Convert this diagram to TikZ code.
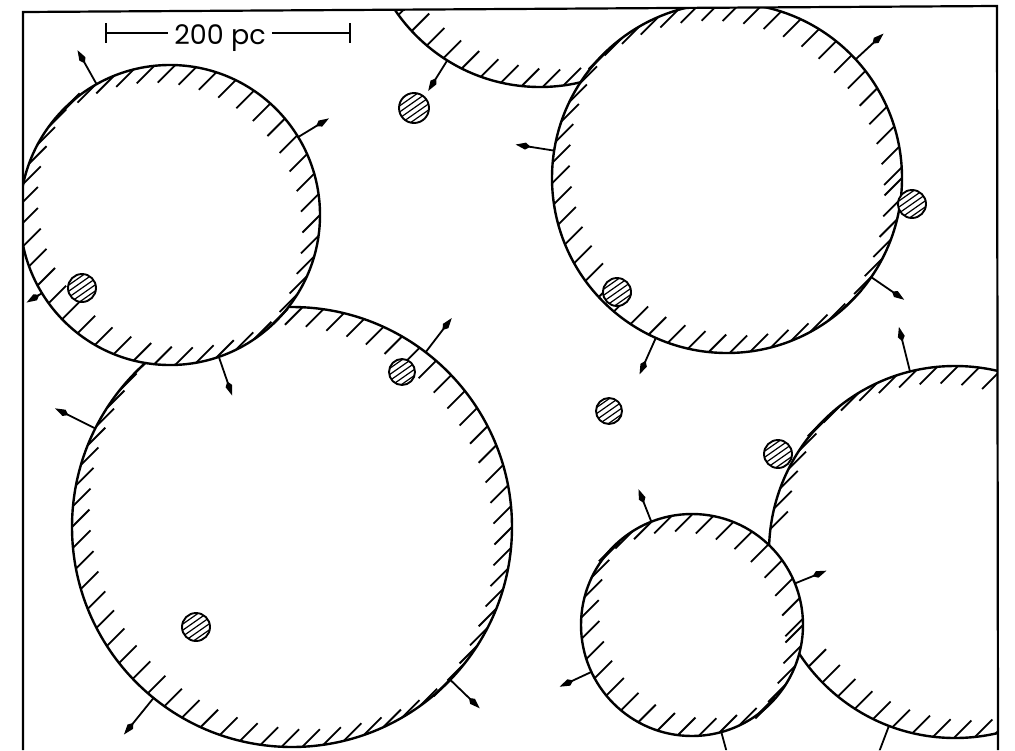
\documentclass[tikz,border=0pt]{standalone}
\usepackage{fontspec}
\setmainfont{Poppins}
\usetikzlibrary{arrows.meta}
% #1,#2,#3: centre and radius; #4,#5,#6: centre and radius of the bubble in front of it
\newcommand\bubbleat[6]{%
  \begin{scope}[even odd rule]
    \clip (-200,-400) rectangle (1300,1100) (#4,#5) circle[radius=#6pt];
    \draw[rim] (#1,#2) circle[radius=#3pt];
    \pgfmathsetmacro\hstep{1200/#3}%
    \foreach \t in {0,\hstep,...,359.99}{%
      \pgfmathsetmacro\px{#1+#3*cos(\t)}%
      \pgfmathsetmacro\py{#2+#3*sin(\t)}%
      \pgfmathsetmacro\dd{veclen(\px-#4,\py-#5)}%
      \pgfmathsetmacro\sg{sign(cos(\t)-sin(\t))}%
      \ifdim\dd pt>#6pt
        \draw[hatchline] (\px,\py) -- ++({-17.5*\sg},{17.5*\sg});
      \fi
    }%
  \end{scope}
}
\newcommand\pushat[5]{%
  \draw[push] ({#1+#3*cos(#4)},{#2+#3*sin(#4)}) -- ({#1+(#3+#5)*cos(#4)},{#2+(#3+#5)*sin(#4)});
}
\newcommand\cloudat[3]{%
  \fill[white] (#1,#2) circle[radius=#3pt];
  \begin{scope}
    \clip (#1,#2) circle[radius=#3pt];
    \foreach \k in {-3,...,3}{%
      \draw[cloudhatch] ({#1+\k*5*sin(35)-20*cos(35)},{#2+\k*5*cos(35)+20*sin(35)}) -- ({#1+\k*5*sin(35)+20*cos(35)},{#2+\k*5*cos(35)-20*sin(35)});
    }
  \end{scope}
  \draw[cloudrim] (#1,#2) circle[radius=#3pt];
}
\begin{document}
\begin{tikzpicture}[x=1pt,y=-1pt,
  rim/.style={line width=2.4pt},
  hatchline/.style={line width=1.8pt},
  push/.style={line width=1.8pt,-{Kite[length=15pt,width=7pt,inset=5pt]}},
  cloudhatch/.style={line width=1.2pt},
  cloudrim/.style={line width=1.9pt},
  framestyle/.style={line width=2.2pt},
  barline/.style={line width=1.8pt}]
\useasboundingbox (0,0) rectangle (1015,750);
\begin{scope}
  \clip (23,12) -- (997,6) -- (998,750) -- (23,750) -- cycle;
  % bubbles: cx cy r, then the bubble in front (far dummy if none)
  \bubbleat{170}{215}{150}{5000}{5000}{1}% A (front)
  \bubbleat{292}{527}{220}{170}{215}{150}% B (behind A)
  \bubbleat{727}{178}{175}{5000}{5000}{1}% C (front)
  \bubbleat{540}{-88}{175}{727}{178}{175}% D (behind C)
  \bubbleat{692}{625}{111}{5000}{5000}{1}% F (front)
  \bubbleat{955}{552}{186}{692}{625}{111}% E (behind F)
  % expansion arrows
  \pushat{170}{215}{150}{240.7}{39}
  \pushat{170}{215}{150}{328.7}{36}
  \pushat{170}{215}{150}{71}{41}
  \pushat{170}{215}{150}{148.6}{18}
  \pushat{292}{527}{220}{206.6}{45}
  \pushat{292}{527}{220}{307.4}{43}
  \pushat{292}{527}{220}{129}{47}
  \pushat{292}{527}{220}{44}{41}
  \pushat{540}{-88}{175}{122}{36}
  \pushat{727}{178}{175}{317.3}{38}
  \pushat{727}{178}{175}{189}{39}
  \pushat{727}{178}{175}{34.5}{40}
  \pushat{727}{178}{175}{114}{40}
  \pushat{955}{552}{186}{256}{46}
  \pushat{955}{552}{186}{110.8}{40}
  \pushat{692}{625}{111}{248.5}{35}
  \pushat{692}{625}{111}{338}{34}
  \pushat{692}{625}{111}{155}{35}
  \pushat{692}{625}{111}{74.7}{40}
  % clouds
  \cloudat{414}{108}{15}
  \cloudat{82}{288}{14}
  \cloudat{617}{292}{14}
  \cloudat{912}{204}{14}
  \cloudat{402}{372}{13}
  \cloudat{609}{411}{13}
  \cloudat{778}{454}{14}
  \cloudat{196}{627}{14}
\end{scope}
\draw[framestyle] (23,750) -- (23,12) -- (997,6) -- (998,750);
% scale bar
\coordinate (sbL) at (106,33);
\coordinate (sbR) at (350,33);
\node[font=\fontsize{27}{30}\selectfont, inner xsep=6pt, anchor=base] (lbl) at (220,44) {200 pc};
\draw[barline] (sbL) -- (sbL -| lbl.west) (sbR -| lbl.east) -- (sbR);
\draw[barline] (sbL) ++(0,-10) -- ++(0,20);
\draw[barline] (sbR) ++(0,-10) -- ++(0,20);
\end{tikzpicture}
\end{document}
